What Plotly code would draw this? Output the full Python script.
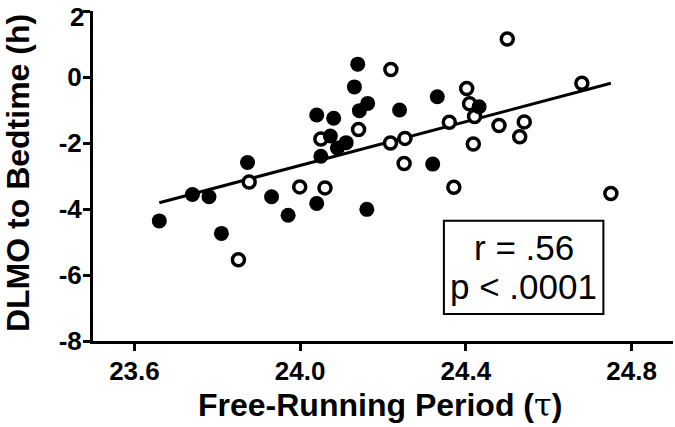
import plotly.graph_objects as go

# Filled circles
filled_x = [23.660, 23.740, 23.780, 23.810, 23.873, 23.931, 23.971, 24.040, 24.040, 24.050,
            24.073, 24.081, 24.090, 24.111, 24.131, 24.139, 24.143, 24.163, 24.161, 24.240,
            24.320, 24.331, 24.432]
filled_y = [-4.36, -3.56, -3.63, -4.74, -2.59, -3.63, -4.19, -3.83, -1.15, -2.40,
            -1.79, -1.25, -2.15, -1.99, -0.30, 0.39, -1.02, -0.80, -4.01, -1.00,
            -2.64, -0.60, -0.90]

# Open circles
open_x = [23.851, 23.877, 23.999, 24.060, 24.050, 24.141, 24.219, 24.218, 24.253, 24.251,
          24.360, 24.371, 24.402, 24.409, 24.421, 24.418, 24.480, 24.500, 24.541, 24.530,
          24.680, 24.750]
open_y = [-5.54, -3.18, -3.33, -3.36, -1.88, -1.59, 0.23, -2.00, -1.86, -2.62,
          -1.37, -3.34, -0.35, -0.81, -1.20, -2.03, -1.47, 1.15, -1.36, -1.81,
          -0.19, -3.53]

# Regression line end points
fit_x = [23.66, 24.75]
fit_y = [-3.81, -0.19]

x_ticks = [23.6, 24.0, 24.4, 24.8]
x_tick_labels = ["23.6", "24.0", "24.4", "24.8"]
y_ticks = [-8, -6, -4, -2, 0, 2]
y_tick_labels = ["-8", "-6", "-4", "-2", "0", "2"]

stats_lines = ["r = .56", "p &lt; .0001"]

FONT = "Arial, 'Liberation Sans', sans-serif"
TICKFONT = dict(family=FONT, size=26, color="black", weight="bold")

fig = go.Figure()
fig.add_trace(go.Scatter(x=fit_x, y=fit_y, mode="lines",
                         line=dict(color="black", width=3), showlegend=False))
fig.add_trace(go.Scatter(x=open_x, y=open_y, mode="markers",
                         marker=dict(symbol="circle", size=12, color="white",
                                     line=dict(color="black", width=3.5)),
                         showlegend=False))
fig.add_trace(go.Scatter(x=filled_x, y=filled_y, mode="markers",
                         marker=dict(symbol="circle", size=15, color="black",
                                     line=dict(width=0)),
                         showlegend=False))

# Stats box
fig.add_shape(type="rect", xref="x", yref="y", x0=24.347, x1=24.732, y0=-7.182, y1=-4.355,
              line=dict(color="black", width=2), fillcolor="rgba(0,0,0,0)")
fig.add_annotation(x=24.540, y=-5.179, xref="x", yref="y", text=stats_lines[0],
                   showarrow=False, xanchor="center", yanchor="middle",
                   font=dict(family=FONT, size=35, color="black"))
fig.add_annotation(x=24.540, y=-6.36, xref="x", yref="y", text=stats_lines[1],
                   showarrow=False, xanchor="center", yanchor="middle",
                   font=dict(family=FONT, size=35, color="black"))

# Top y tick label: nudged down so it stays inside the figure (as in the reference)
top_label = y_tick_labels[-1]
y_tick_text_axis = y_tick_labels[:-1] + [""]
fig.add_annotation(x=0, y=y_ticks[-1], xref="paper", yref="y", text=top_label,
                   showarrow=False, xanchor="right", yanchor="middle",
                   xshift=-7, yshift=-6, font=TICKFONT)

# Axis titles as annotations for exact placement
fig.add_annotation(x=-0.1293, y=0.509, xref="paper", yref="paper",
                   xanchor="center", yanchor="middle",
                   text="DLMO to Bedtime (h)", textangle=-90, showarrow=False,
                   font=dict(family=FONT, size=32, color="black", weight="bold"))
fig.add_annotation(x=0.4948, y=-0.194, xref="paper", yref="paper",
                   xanchor="center", yanchor="middle",
                   text="Free-Running Period (<span style=\"font-weight:normal;font-family:'DejaVu Serif'\">τ</span>)",
                   showarrow=False,
                   font=dict(family=FONT, size=32, color="black", weight="bold"))

fig.update_layout(
    width=675, height=427,
    margin=dict(l=93, r=2, t=11, b=86),
    paper_bgcolor="white", plot_bgcolor="white",
    font=dict(family=FONT, color="black"),
    xaxis=dict(range=[23.5, 24.9], tickmode="array", tickvals=x_ticks,
               ticktext=x_tick_labels, showgrid=False, zeroline=False,
               showline=True, linecolor="black", linewidth=3, automargin=False,
               ticks="outside", ticklen=7, tickwidth=3, tickcolor="black",
               ticklabelstandoff=-2, ticklabeloverflow="allow",
               tickfont=TICKFONT),
    yaxis=dict(range=[-8, 2], tickmode="array", tickvals=y_ticks,
               ticktext=y_tick_text_axis, showgrid=False, zeroline=False,
               showline=True, linecolor="black", linewidth=3, automargin=False,
               ticks="outside", ticklen=7, tickwidth=3, tickcolor="black",
               ticklabelstandoff=-4, ticklabeloverflow="allow",
               tickfont=TICKFONT),
)

fig.write_html("out.html", config={"displayModeBar": False},
               post_script="document.body.style.margin='0';")
